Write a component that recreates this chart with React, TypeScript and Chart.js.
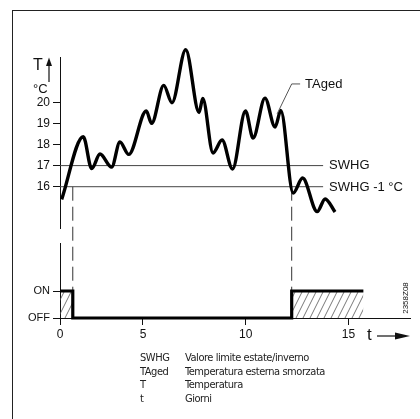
import { useEffect, useRef } from 'react';
import { Chart, registerables, LinearScale } from 'chart.js';

// ---------- data ----------
const xTicks = [0, 5, 10, 15];
const tempTicks = [16, 17, 18, 19, 20];
const heatTicks = [0, 1];
const heatTickLabels = ['OFF', 'ON'];

const tagedDays = [0.10, 1.40, 1.91, 2.41, 3.11, 3.61, 4.14, 5.16, 5.42, 6.01, 6.41, 7.08, 7.73, 7.91, 8.41, 8.85, 9.36, 9.99, 10.36, 10.94, 11.43, 11.71, 12.31, 12.77, 13.48, 13.87, 14.35];
const tagedTemps = [15.40, 18.37, 16.86, 17.55, 16.93, 18.12, 17.53, 19.59, 19.00, 20.80, 19.98, 22.49, 19.52, 20.18, 17.60, 18.21, 16.84, 19.59, 18.31, 20.20, 18.83, 19.61, 15.70, 16.41, 14.82, 15.42, 14.80];

const swhgTemp = 17;
const swhgLowTemp = 16;
const swhgDays = [0, 13.77];

const heatDays = [0, 0.77, 12.24, 15.73];
const heatStates = [1, 0, 1, 1];

const tagedLeaderDays = [11.53, 12.24, 12.65];
const tagedLeaderTemps = [19.45, 20.87, 20.87];

const legendKeys = ['SWHG', 'TAged', 'T', 't'];
const legendTexts = ['Valore limite estate/inverno', 'Temperatura esterna smorzata', 'Temperatura', 'Giorni'];

// ---------- piecewise x scale (the drawing's day axis is not uniform) ----------
const X_BREAKS: [number, number][] = [[0, 0], [5, 0.2371], [18, 1]];
function valueToDecimal(v: number) {
  for (let i = 0; i < X_BREAKS.length - 1; i++) {
    const [v0, d0] = X_BREAKS[i];
    const [v1, d1] = X_BREAKS[i + 1];
    if (v <= v1 || i === X_BREAKS.length - 2) {
      return d0 + ((v - v0) / (v1 - v0)) * (d1 - d0);
    }
  }
  return 0;
}
function decimalToValue(d: number) {
  for (let i = 0; i < X_BREAKS.length - 1; i++) {
    const [v0, d0] = X_BREAKS[i];
    const [v1, d1] = X_BREAKS[i + 1];
    if (d <= d1 || i === X_BREAKS.length - 2) {
      return v0 + ((d - d0) / (d1 - d0)) * (v1 - v0);
    }
  }
  return 0;
}
class PiecewiseScale extends LinearScale {
  static id = 'piecewise';
  getPixelForValue(value: any) {
    if (value === null || value === undefined || Number.isNaN(value)) return NaN;
    return this.getPixelForDecimal(valueToDecimal(value));
  }
  getValueForPixel(pixel: number) {
    return decimalToValue(this.getDecimalForPixel(pixel));
  }
}

Chart.register(...registerables, PiecewiseScale);

const SANS = '"Liberation Sans", Arial, Helvetica, sans-serif';

function makeHatch(): CanvasPattern | string {
  const c = document.createElement('canvas');
  c.width = 7;
  c.height = 14;
  const g = c.getContext('2d');
  if (!g) return 'rgba(0,0,0,0.2)';
  g.strokeStyle = '#555';
  g.lineWidth = 0.8;
  g.beginPath();
  for (const off of [-7, 0, 7]) {
    g.moveTo(off - 1, 16);
    g.lineTo(off + 8, -2);
  }
  g.stroke();
  return g.createPattern(c, 'repeat') || 'rgba(0,0,0,0.2)';
}

const overlay = {
  id: 'overlay',
  beforeDatasetsDraw(chart: any) {
    const { ctx } = chart;
    const x = chart.scales.x;
    const y = chart.scales.y;
    const y2 = chart.scales.y2;
    ctx.save();
    ctx.strokeStyle = '#333';
    ctx.lineWidth = 1;
    ctx.setLineDash([14, 6]);
    for (const d of [heatDays[1], heatDays[2]]) {
      const px = x.getPixelForValue(d);
      ctx.beginPath();
      ctx.moveTo(px, y.getPixelForValue(swhgLowTemp));
      ctx.lineTo(px, y2.getPixelForValue(1));
      ctx.stroke();
    }
    ctx.restore();
  },
  afterDatasetsDraw(chart: any) {
    const { ctx, chartArea } = chart;
    const x = chart.scales.x;
    const y = chart.scales.y;
    const { left, top, right, bottom } = chartArea;
    ctx.save();
    ctx.fillStyle = '#111';
    ctx.strokeStyle = '#111';

    // TAged leader + label
    ctx.strokeStyle = '#555';
    ctx.lineWidth = 1;
    ctx.beginPath();
    tagedLeaderDays.forEach((d, i) => {
      const px = x.getPixelForValue(d);
      const py = y.getPixelForValue(tagedLeaderTemps[i]);
      if (i === 0) ctx.moveTo(px, py);
      else ctx.lineTo(px, py);
    });
    ctx.stroke();
    ctx.font = `13px ${SANS}`;
    ctx.textBaseline = 'middle';
    ctx.textAlign = 'left';
    const lastD = tagedLeaderDays[tagedLeaderDays.length - 1];
    ctx.fillText('TAged', x.getPixelForValue(lastD) + 5, y.getPixelForValue(tagedLeaderTemps[tagedLeaderTemps.length - 1]));

    // SWHG labels
    const endX = x.getPixelForValue(swhgDays[1]) + 6;
    ctx.fillText('SWHG', endX, y.getPixelForValue(swhgTemp));
    ctx.fillText('SWHG -1 °C', endX, y.getPixelForValue(swhgLowTemp) + 1);

    // T axis title with arrow
    ctx.textBaseline = 'alphabetic';
    ctx.font = `16px ${SANS}`;
    ctx.fillText('T', left - 27, top + 13);
    ctx.font = `13px ${SANS}`;
    ctx.fillText('°C', left - 27, top + 36);
    ctx.strokeStyle = '#111';
    ctx.lineWidth = 1.2;
    ctx.beginPath();
    ctx.moveTo(left - 11, top + 25);
    ctx.lineTo(left - 11, top + 6);
    ctx.stroke();
    ctx.beginPath();
    ctx.moveTo(left - 11, top + 0.5);
    ctx.lineTo(left - 14, top + 9);
    ctx.lineTo(left - 8, top + 9);
    ctx.closePath();
    ctx.fill();

    // t axis title with arrow
    ctx.font = `17px ${SANS}`;
    ctx.fillText('t', right - 43, bottom + 22);
    ctx.beginPath();
    ctx.moveTo(right - 33, bottom + 18);
    ctx.lineTo(right - 12, bottom + 18);
    ctx.stroke();
    ctx.beginPath();
    ctx.moveTo(right, bottom + 18);
    ctx.lineTo(right - 15, bottom + 14.5);
    ctx.lineTo(right - 15, bottom + 21.5);
    ctx.closePath();
    ctx.fill();

    // drawing id
    ctx.save();
    ctx.translate(right - 4, bottom - 20);
    ctx.rotate(-Math.PI / 2);
    ctx.font = `8px ${SANS}`;
    ctx.textAlign = 'center';
    ctx.textBaseline = 'middle';
    ctx.fillText('2358Z08', 0, 0);
    ctx.restore();

    ctx.restore();
  },
};

const tickFont = { family: SANS, size: 12 };

export default function App() {
  const ref = useRef<HTMLCanvasElement>(null);
  useEffect(() => {
    const canvas = ref.current;
    if (!canvas) return;
    const hatch = makeHatch();
    const chart = new Chart(canvas, {
      type: 'line',
      data: {
        datasets: [
          {
            label: 'TAged',
            data: tagedDays.map((d, i) => ({ x: d, y: tagedTemps[i] })),
            yAxisID: 'y',
            borderColor: '#000',
            borderWidth: 3.4,
            cubicInterpolationMode: 'monotone',
            pointRadius: 0,
            clip: false as any,
            fill: false,
          },
          {
            label: 'SWHG',
            data: swhgDays.map((d) => ({ x: d, y: swhgTemp })),
            yAxisID: 'y',
            borderColor: '#444',
            borderWidth: 1,
            pointRadius: 0,
            fill: false,
          },
          {
            label: 'SWHG -1',
            data: swhgDays.map((d) => ({ x: d, y: swhgLowTemp })),
            yAxisID: 'y',
            borderColor: '#444',
            borderWidth: 1,
            pointRadius: 0,
            fill: false,
          },
          {
            label: 'Riscaldamento',
            data: heatDays.map((d, i) => ({ x: d, y: heatStates[i] })),
            yAxisID: 'y2',
            stepped: true,
            borderColor: '#000',
            borderWidth: 3.2,
            pointRadius: 0,
            fill: 'origin',
            backgroundColor: hatch as any,
            clip: false as any,
          },
        ],
      },
      options: {
        responsive: false,
        devicePixelRatio: 1,
        animation: false,
        layout: { padding: { left: 12, right: 10, top: 57, bottom: 0 } },
        plugins: { legend: { display: false }, tooltip: { enabled: false } },
        events: [],
        scales: {
          x: {
            type: 'piecewise' as any,
            position: 'bottom',
            min: 0,
            max: 18,
            afterFit: (s: any) => { s.height = 101; },
            afterBuildTicks: (s: any) => { s.ticks = xTicks.map((v) => ({ value: v })); },
            grid: { display: true, drawOnChartArea: false, drawTicks: true, tickLength: 7, color: '#111', lineWidth: 1 },
            border: { display: true, color: '#111', width: 1 },
            ticks: { font: tickFont, color: '#111', padding: 2, maxRotation: 0, autoSkip: false },
          } as any,
          y: {
            type: 'linear',
            position: 'left',
            stack: 'left',
            stackWeight: 171,
            weight: 3,
            min: 14.043,
            max: 22.147,
            afterFit: (s: any) => { s.width = 48; },
            afterBuildTicks: (s: any) => { s.ticks = tempTicks.map((v) => ({ value: v })); },
            grid: { display: true, drawOnChartArea: false, drawTicks: true, tickLength: 7, color: '#111', lineWidth: 1 },
            border: { display: true, color: '#111', width: 1 },
            ticks: { font: tickFont, color: '#111', padding: 3 },
          } as any,
          gap: {
            type: 'linear',
            position: 'left',
            stack: 'left',
            stackWeight: 15,
            weight: 2,
            display: true,
            afterFit: (s: any) => { s.width = 48; },
            grid: { display: false },
            border: { display: false },
            ticks: { display: false },
          } as any,
          y2: {
            type: 'linear',
            position: 'left',
            stack: 'left',
            stackWeight: 75,
            weight: 1,
            min: 0,
            max: 2.78,
            afterFit: (s: any) => { s.width = 48; },
            afterBuildTicks: (s: any) => { s.ticks = heatTicks.map((v) => ({ value: v })); },
            grid: { display: true, drawOnChartArea: false, drawTicks: true, tickLength: 7, color: '#111', lineWidth: 1 },
            border: { display: true, color: '#111', width: 1 },
            ticks: {
              font: { family: SANS, size: 11 },
              color: '#111',
              padding: 3,
              callback: (v: any) => heatTickLabels[heatTicks.indexOf(Number(v))] ?? '',
            },
          } as any,
        },
      },
      plugins: [overlay],
    });
    return () => chart.destroy();
  }, []);

  return (
    <div style={{ position: 'absolute', left: 0, top: 0, width: 420, height: 419, overflow: 'hidden', background: '#fff' }}>
      <div style={{ position: 'absolute', left: 12, top: 10, right: -2, bottom: -2, borderLeft: '1px solid #222', borderTop: '1px solid #222' }} />
      <canvas ref={ref} width={420} height={419} style={{ position: 'absolute', left: 0, top: 0, width: 420, height: 419 }} />
      <div style={{ position: 'absolute', left: 140, top: 351, fontFamily: '"Liberation Sans Narrow", "DejaVu Sans Condensed", "Open Sans", sans-serif', fontSize: 11, letterSpacing: '-0.45px', lineHeight: '13.5px', color: '#222' }}>
        {legendKeys.map((k, i) => (
          <div key={k} style={{ position: 'relative', height: 13.5, whiteSpace: 'nowrap' }}>
            <span style={{ position: 'absolute', left: 0 }}>{k}</span>
            <span style={{ position: 'absolute', left: 45 }}>{legendTexts[i]}</span>
          </div>
        ))}
      </div>
    </div>
  );
}
